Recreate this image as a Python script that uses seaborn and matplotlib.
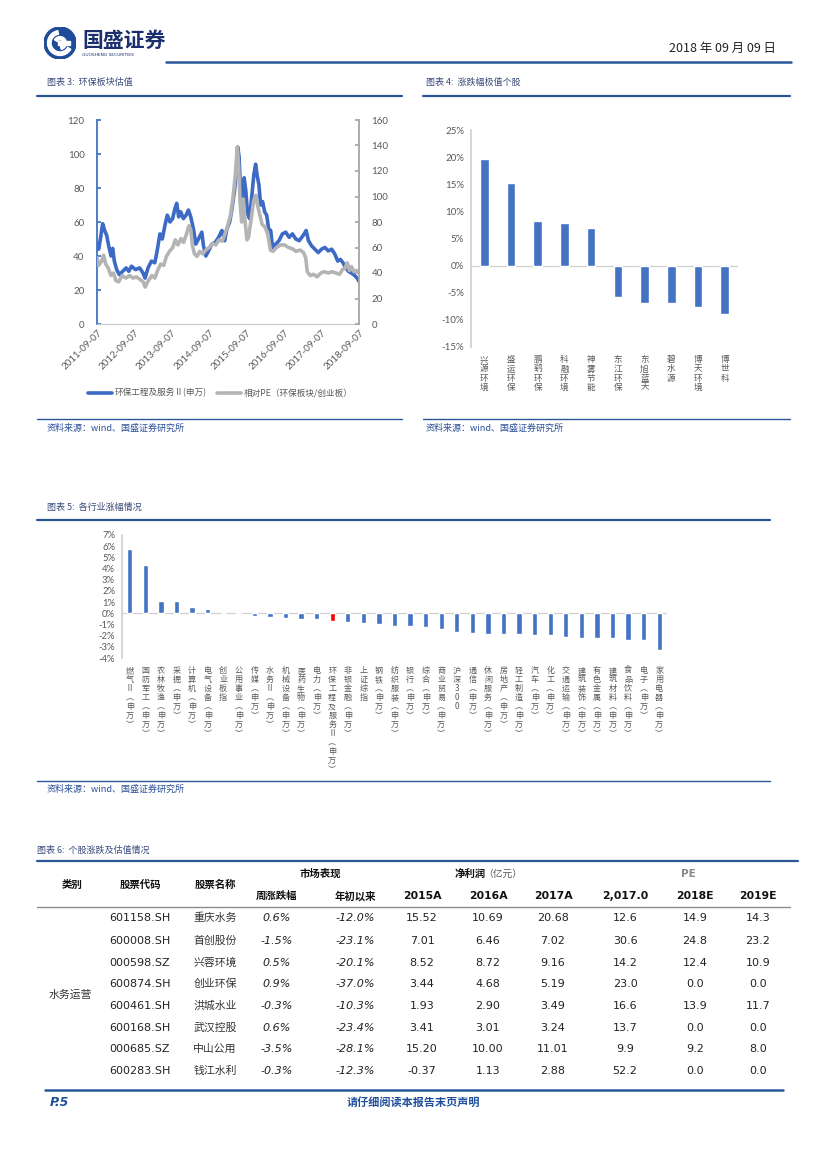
import numpy as np
import pandas as pd
import matplotlib
matplotlib.use("Agg")
import matplotlib.pyplot as plt
from matplotlib.lines import Line2D
from matplotlib.patches import Circle, Wedge, Rectangle
import seaborn as sns

sns.set_theme(style="white")
plt.rcParams['font.family'] = ['Noto Sans CJK SC', 'DejaVu Sans']
plt.rcParams['axes.unicode_minus'] = False

# ---- 图表3 data ----
blue_dates = ['2011-09-07', '2011-09-23', '2011-10-10', '2011-11-01', '2011-11-21', '2011-12-11',
              '2011-12-30', '2012-01-22', '2012-02-07', '2012-02-23', '2012-03-17', '2012-04-12',
              '2012-05-15', '2012-06-17', '2012-07-13', '2012-08-09', '2012-09-17', '2012-10-27',
              '2012-11-29', '2012-12-19', '2013-01-17', '2013-02-19', '2013-03-24', '2013-04-16',
              '2013-05-13', '2013-06-05', '2013-07-01', '2013-07-24', '2013-08-19', '2013-09-14',
              '2013-10-07', '2013-10-24', '2013-11-12', '2013-12-02', '2013-12-28', '2014-01-23',
              '2014-02-15', '2014-03-10', '2014-04-05', '2014-04-28', '2014-05-24', '2014-06-26',
              '2014-07-12', '2014-08-04', '2014-08-31', '2014-10-02', '2014-11-04', '2014-12-07',
              '2015-01-08', '2015-02-04', '2015-02-26', '2015-03-25', '2015-04-17', '2015-05-10',
              '2015-05-30', '2015-06-12', '2015-06-25', '2015-07-11', '2015-07-28', '2015-08-13',
              '2015-08-30', '2015-09-15', '2015-10-05', '2015-10-28', '2015-11-16', '2015-12-03',
              '2015-12-19', '2016-01-04', '2016-01-21', '2016-02-09', '2016-02-29', '2016-03-20',
              '2016-04-08', '2016-04-28', '2016-05-17', '2016-06-16', '2016-07-18', '2016-08-20',
              '2016-09-22', '2016-10-25', '2016-11-26', '2016-12-29', '2017-01-31', '2017-02-26',
              '2017-03-21', '2017-04-09', '2017-05-02', '2017-06-01', '2017-07-03', '2017-08-05',
              '2017-09-06', '2017-10-09', '2017-11-11', '2017-12-14', '2018-01-15', '2018-02-11',
              '2018-03-09', '2018-04-04', '2018-04-30', '2018-05-27', '2018-06-22', '2018-07-18',
              '2018-08-20', '2018-09-07']
blue_vals = [47.5, 44, 50, 59, 55, 52, 46, 40, 44.5, 37, 32, 29,
             31, 33, 31, 34, 32, 33, 30, 27, 33, 37, 36, 43,
             53, 50, 58, 64, 60, 62, 68, 71, 63, 66, 62, 64,
             67, 63, 56, 47, 50, 54, 46, 40, 43, 47, 48, 51,
             55, 49, 56, 60, 68, 78, 90, 104, 98, 75, 64, 86,
             78, 65, 62, 76, 88, 94, 87, 82, 70, 72, 66, 64,
             56, 55, 45, 47, 49, 53, 54, 51, 53, 50, 49, 51,
             53, 55, 49, 46, 44, 42, 44, 45, 43, 44, 41, 37,
             38, 36, 33, 31, 30, 29, 27, 25]

gray_dates = ['2011-09-07', '2011-09-23', '2011-10-20', '2011-11-10', '2011-12-01', '2011-12-25',
              '2012-01-22', '2012-02-15', '2012-03-10', '2012-04-05', '2012-05-10', '2012-06-15',
              '2012-07-20', '2012-08-25', '2012-09-25', '2012-10-30', '2012-12-01', '2012-12-20',
              '2013-01-20', '2013-02-25', '2013-03-25', '2013-04-20', '2013-05-20', '2013-06-20',
              '2013-07-15', '2013-08-15', '2013-09-15', '2013-10-10', '2013-11-05', '2013-12-05',
              '2013-12-30', '2014-01-25', '2014-02-20', '2014-03-10', '2014-03-25', '2014-04-15',
              '2014-05-10', '2014-06-05', '2014-07-05', '2014-08-05', '2014-09-05', '2014-10-10',
              '2014-11-10', '2014-12-10', '2015-01-10', '2015-02-05', '2015-03-05', '2015-04-01',
              '2015-04-25', '2015-05-20', '2015-06-08', '2015-06-20', '2015-07-05', '2015-07-20',
              '2015-08-05', '2015-08-20', '2015-09-10', '2015-09-25', '2015-10-20', '2015-11-15',
              '2015-12-05', '2015-12-25', '2016-01-15', '2016-02-05', '2016-03-05', '2016-04-01',
              '2016-04-25', '2016-05-20', '2016-06-25', '2016-08-01', '2016-09-10', '2016-10-20',
              '2016-11-25', '2017-01-01', '2017-02-10', '2017-03-15', '2017-04-05', '2017-04-20',
              '2017-05-20', '2017-06-20', '2017-07-25', '2017-08-30', '2017-10-05', '2017-11-10',
              '2017-12-20', '2018-01-25', '2018-03-01', '2018-04-01', '2018-04-25', '2018-05-15',
              '2018-06-05', '2018-06-25', '2018-07-20', '2018-08-15', '2018-09-07']
gray_vals = [52, 46, 49, 54, 47, 44, 38, 40, 34, 33, 38, 36,
             38, 36, 37, 35, 33, 29, 34, 38, 36, 42, 47, 46,
             53, 57, 60, 66, 62, 67, 64, 70, 77, 74, 62, 55,
             53, 57, 55, 58, 60, 63, 62, 66, 65, 70, 77, 85,
             98, 118, 139, 125, 95, 80, 98, 82, 66, 68, 82, 97,
             101, 92, 85, 78, 76, 70, 58, 57, 60, 62, 62, 60,
             59, 57, 58, 56, 52, 41, 38, 39, 37, 40, 41, 40,
             41, 40, 39, 43, 44, 48, 42, 45, 41, 42, 40]

x_ticks = ['2011-09-07', '2012-09-07', '2013-09-07', '2014-09-07',
           '2015-09-07', '2016-09-07', '2017-09-07', '2018-09-07']

# ---- 图表4 data ----
stocks4 = ['兴源环境', '盛运环保', '鹏鹞环保', '科融环境', '神雾节能',
           '东江环保', '东旭蓝天', '碧水源', '博天环境', '博世科']
chg4 = [19.6, 15.2, 8.3, 7.85, 6.9, -5.7, -6.9, -6.9, -7.7, -9.0]

# ---- 图表5 data ----
ind_names = ['燃气Ⅱ(申万)', '国防军工(申万)', '农林牧渔(申万)', '采掘(申万)', '计算机(申万)',
             '电气设备(申万)', '创业板指', '公用事业(申万)', '传媒(申万)', '水务Ⅱ(申万)',
             '机械设备(申万)', '医药生物(申万)', '电力(申万)', '环保工程及服务Ⅱ(申万)',
             '非银金融(申万)', '上证综指', '钢铁(申万)', '纺织服装(申万)', '银行(申万)',
             '综合(申万)', '商业贸易(申万)', '沪深300', '通信(申万)', '休闲服务(申万)',
             '房地产(申万)', '轻工制造(申万)', '汽车(申万)', '化工(申万)', '交通运输(申万)',
             '建筑装饰(申万)', '有色金属(申万)', '建筑材料(申万)', '食品饮料(申万)',
             '电子(申万)', '家用电器(申万)']
ind_chg = [5.73, 4.33, 1.10, 1.10, 0.54, 0.42, 0.0, -0.05, -0.28, -0.30,
           -0.45, -0.48, -0.54, -0.69, -0.75, -0.90, -0.99, -1.13, -1.13, -1.22,
           -1.43, -1.70, -1.73, -1.82, -1.85, -1.88, -1.94, -1.94, -2.15, -2.21,
           -2.21, -2.24, -2.42, -2.42, -3.25]
highlight = '环保工程及服务Ⅱ(申万)'

# ---- 图表6 data ----
codes = ['601158.SH', '600008.SH', '000598.SZ', '600874.SH',
         '600461.SH', '600168.SH', '000685.SZ', '600283.SH']
names = ['重庆水务', '首创股份', '兴蓉环境', '创业环保', '洪城水业', '武汉控股', '中山公用', '钱江水利']
week_chg = [0.6, -1.5, 0.5, 0.9, -0.3, 0.6, -3.5, -0.3]
ytd_chg = [-12.0, -23.1, -20.1, -37.0, -10.3, -23.4, -28.1, -12.3]
np2015 = [15.52, 7.01, 8.52, 3.44, 1.93, 3.41, 15.20, -0.37]
np2016 = [10.69, 6.46, 8.72, 4.68, 2.90, 3.01, 10.00, 1.13]
np2017 = [20.68, 7.02, 9.16, 5.19, 3.49, 3.24, 11.01, 2.88]
pe2017 = [12.6, 30.6, 14.2, 23.0, 16.6, 13.7, 9.9, 52.2]
pe2018 = [14.9, 24.8, 12.4, 0.0, 13.9, 0.0, 9.2, 0.0]
pe2019 = [14.3, 23.2, 10.9, 0.0, 11.7, 0.0, 8.0, 0.0]

W, H = 827, 1169
BLUE = '#4472C4'
GRAY = '#B4B4B4'
RULE = '#2B579A'
TITLE_C = '#3B4A7C'
TICK_C = '#595959'
NUM_FONT = ['DejaVu Sans', 'Noto Sans CJK SC']
TICK_FONT = ['Lato', 'Noto Sans CJK SC']

fig = plt.figure(figsize=(8.27, 11.69), dpi=100)


def px_axes(l, t, r, b):
    return fig.add_axes([l / W, 1 - b / H, (r - l) / W, (b - t) / H])


def ftext(x, y, s, **kw):
    kw.setdefault('va', 'center')
    return fig.text(x / W, 1 - y / H, s, **kw)


def hline(x1, x2, y, color=RULE, lw=1.6):
    fig.add_artist(Line2D([x1 / W, x2 / W], [1 - y / H, 1 - y / H],
                          color=color, lw=lw, transform=fig.transFigure))


def vstack(s):
    return '\n'.join(s.replace('(', '︵').replace(')', '︶'))


# ---- header ----
logo = px_axes(44, 27, 76, 59)
logo.set_xlim(-1, 1)
logo.set_ylim(-1, 1)
logo.set_aspect('equal')
logo.axis('off')
logo.add_patch(Circle((0, 0), 1, color='#1E4C9A'))
logo.add_patch(Wedge((0, 0), 0.78, 100, 330, width=0.22, color='white'))
logo.add_patch(Wedge((0, 0), 0.4, 280, 150, width=0.2, color='white'))
logo.add_patch(Rectangle((-0.15, -0.1), 0.8, 0.2, color='white'))
ftext(82, 40, '国盛证券', fontsize=15, fontweight='bold', color='#1B2F6E', ha='left')
ftext(82, 55, 'GUOSHENG SECURITIES', fontsize=3.2, color='#1B2F6E', ha='left',
      family=NUM_FONT)
ftext(776, 48, '2018 年 09 月 09 日', fontsize=9, color='#222222', ha='right')
hline(166, 791, 62, lw=1.8)

# ---- section titles and rules ----
ftext(47, 82, '图表 3:  环保板块估值', fontsize=6.5, color=TITLE_C, ha='left')
ftext(426, 82, '图表 4:  涨跌幅极值个股', fontsize=6.5, color=TITLE_C, ha='left')
hline(37, 402, 96)
hline(423, 790, 96)
hline(37, 402, 419, lw=1.0)
hline(423, 790, 419, lw=1.0)
ftext(47, 428, '资料来源：wind、国盛证券研究所', fontsize=6.5, color='#2A4F9A', ha='left')
ftext(426, 428, '资料来源：wind、国盛证券研究所', fontsize=6.5, color='#2A4F9A', ha='left')

ftext(47, 507, '图表 5:  各行业涨幅情况', fontsize=6.5, color=TITLE_C, ha='left')
hline(37, 770, 520)
hline(37, 770, 781, lw=1.0)
ftext(47, 789, '资料来源：wind、国盛证券研究所', fontsize=6.5, color='#2A4F9A', ha='left')

ftext(37, 850, '图表 6:  个股涨跌及估值情况', fontsize=6.5, color=TITLE_C, ha='left')
hline(37, 798, 861)

# ---- 图表3: twin line chart ----
ax3 = px_axes(97, 120, 359, 324)
bdf = pd.DataFrame({'date': pd.to_datetime(blue_dates), 'v': blue_vals})
gdf = pd.DataFrame({'date': pd.to_datetime(gray_dates), 'v': gray_vals})
sns.lineplot(data=bdf, x='date', y='v', ax=ax3, color='#3D6AC4', lw=2.6)
ax3r = ax3.twinx()
sns.lineplot(data=gdf, x='date', y='v', ax=ax3r, color=GRAY, lw=2.6)
ax3.set_xlim(pd.Timestamp(x_ticks[0]), pd.Timestamp(x_ticks[-1]))
ax3.set_ylim(0, 120)
ax3r.set_ylim(0, 160)
ax3.set_yticks(range(0, 121, 20))
ax3r.set_yticks(range(0, 161, 20))
ax3.set_xticks(pd.to_datetime(x_ticks))
ax3.set_xticklabels(x_ticks, rotation=45, ha='right', rotation_mode='anchor',
                    fontsize=7, color=TICK_C, family=TICK_FONT)
for a in (ax3, ax3r):
    a.set_xlabel('')
    a.set_ylabel('')
    a.set_facecolor('none')
    for sp in a.spines.values():
        sp.set_visible(False)
for lab in ax3.get_yticklabels() + ax3r.get_yticklabels():
    lab.set_fontsize(7)
    lab.set_color(TICK_C)
    lab.set_family(TICK_FONT)
ax3.spines['left'].set_visible(True)
ax3.spines['left'].set_color('#4472C4')
ax3.spines['left'].set_linewidth(1.3)
ax3.spines['bottom'].set_visible(True)
ax3.spines['bottom'].set_color('#C8C8C8')
ax3.spines['bottom'].set_linewidth(0.8)
ax3r.spines['right'].set_visible(True)
ax3r.spines['right'].set_color('#A6A6A6')
ax3r.spines['right'].set_linewidth(1.3)
ax3.tick_params(axis='y', length=3, direction='in', color='#4472C4', pad=9)
ax3r.tick_params(axis='y', length=3, direction='in', color='#A6A6A6', pad=9)
ax3.tick_params(axis='x', length=3, direction='in', color='#C8C8C8', pad=3)
ax3.grid(False)
ax3r.grid(False)
handles = [Line2D([], [], color='#3D6AC4', lw=2.6), Line2D([], [], color=GRAY, lw=2.6)]
fig.legend(handles, ['环保工程及服务Ⅱ(申万)', '相对PE（环保板块/创业板）'],
           loc='center', bbox_to_anchor=(220 / W, 1 - 393 / H), ncol=2, frameon=False,
           fontsize=6.2, handlelength=2.8, columnspacing=1.2, handletextpad=0.3,
           labelcolor=TICK_C)

# ---- 图表4: bar chart ----
ax4 = px_axes(471, 130, 738, 347)
df4 = pd.DataFrame({'stock': stocks4, 'chg': chg4})
sns.barplot(data=df4, x='stock', y='chg', ax=ax4, color=BLUE, width=0.32,
            saturation=1)
ax4.set_xlim(-0.5, len(stocks4) - 0.5)
ax4.set_ylim(-15, 25)
ax4.set_yticks(range(-15, 26, 5))
ax4.set_yticklabels([f'{v}%' for v in range(-15, 26, 5)], fontsize=7,
                    color=TICK_C, family=TICK_FONT)
ax4.set_xticks(range(len(stocks4)))
ax4.set_xticklabels([vstack(s) for s in stocks4], fontsize=6.2, color=TICK_C,
                    va='top', linespacing=1.02)
ax4.tick_params(axis='x', length=0, pad=6)
ax4.tick_params(axis='y', length=3, color='#D0D0D0', direction='out', pad=2)
ax4.axhline(0, color='#D0D0D0', lw=0.9, zorder=0)
for sp in ax4.spines.values():
    sp.set_visible(False)
ax4.spines['left'].set_visible(True)
ax4.spines['left'].set_color('#D0D0D0')
ax4.set_xlabel('')
ax4.set_ylabel('')
ax4.grid(False)

# ---- 图表5: bar chart ----
ax5 = px_axes(122, 535, 667, 658)
df5 = pd.DataFrame({'ind': ind_names, 'chg': ind_chg})
pal5 = {n: ('#FF0000' if n == highlight else BLUE) for n in ind_names}
sns.barplot(data=df5, x='ind', y='chg', hue='ind', palette=pal5, legend=False,
            ax=ax5, width=0.34, saturation=1)
ax5.set_xlim(-0.5, len(ind_names) - 0.5)
ax5.set_ylim(-4, 7)
ax5.set_yticks(range(-4, 8))
ax5.set_yticklabels([f'{v}%' for v in range(-4, 8)], fontsize=6.8,
                    color=TICK_C, family=TICK_FONT)
ax5.set_xticks(range(len(ind_names)))
ax5.set_xticklabels([vstack(s) for s in ind_names], fontsize=5.8, color=TICK_C,
                    va='top', linespacing=1.0)
ax5.tick_params(axis='x', length=0, pad=6)
ax5.tick_params(axis='y', length=3, color='#D0D0D0', direction='out', pad=2)
ax5.axhline(0, color='#D0D0D0', lw=0.9, zorder=0)
for sp in ax5.spines.values():
    sp.set_visible(False)
ax5.spines['left'].set_visible(True)
ax5.spines['left'].set_color('#D0D0D0')
ax5.set_xlabel('')
ax5.set_ylabel('')
ax5.grid(False)

# ---- 图表6: table ----
axt = px_axes(0, 861, W, 1090)
axt.set_xlim(0, W)
axt.set_ylim(1090, 861)
axt.axis('off')
hdr = dict(fontsize=7.5, fontweight='bold', color='#111111', ha='center', va='center')
axt.text(320, 874, '市场表现', **hdr)
axt.text(470, 874, '净利润', **hdr)
axt.text(503, 874, '（亿元）', fontsize=7, color='#555555', ha='center', va='center')
axt.text(688, 874, 'PE', fontsize=7.5, fontweight='bold', color='#888888', ha='center',
         va='center', family=NUM_FONT)
axt.text(72, 885, '类别', **hdr)
axt.text(140, 885, '股票代码', **hdr)
axt.text(215, 885, '股票名称', **hdr)
axt.text(277, 896, '周涨跌幅', **hdr)
axt.text(355, 896, '年初以来', **hdr)
num_cols = [422, 488, 553, 625, 695, 758]
for x, s in zip(num_cols, ['2015A', '2016A', '2017A', '2,017.0', '2018E', '2019E']):
    axt.text(x, 896, s, fontsize=7.8, fontweight='bold', color='#111111', ha='center',
             va='center', family=NUM_FONT)
axt.plot([37, 790], [907, 907], color='#8C8C8C', lw=1.0)
axt.plot([45, 783], [1090, 1090], color=RULE, lw=1.8, clip_on=False)

row_y = [918, 941, 963, 984, 1006, 1028, 1049, 1071]
cell = dict(fontsize=8, color='#222222', ha='center', va='center', family=NUM_FONT)
for i, y in enumerate(row_y):
    axt.text(140, y, codes[i], **cell)
    axt.text(215, y, names[i], fontsize=7.8, color='#333333', ha='center', va='center')
    axt.text(277, y, f'{week_chg[i]:.1f}%', style='italic', **cell)
    axt.text(355, y, f'{ytd_chg[i]:.1f}%', style='italic', **cell)
    axt.text(422, y, f'{np2015[i]:.2f}', **cell)
    axt.text(488, y, f'{np2016[i]:.2f}', **cell)
    axt.text(553, y, f'{np2017[i]:.2f}', **cell)
    axt.text(625, y, f'{pe2017[i]:.1f}', **cell)
    axt.text(695, y, f'{pe2018[i]:.1f}', **cell)
    axt.text(758, y, f'{pe2019[i]:.1f}', **cell)
axt.text(70, 995, '水务运营', fontsize=7.8, color='#333333', ha='center', va='center')

# ---- footer ----
ftext(50, 1102, 'P.5', fontsize=9, fontweight='bold', style='italic', color='#1F4E9B',
      ha='left', family=NUM_FONT)
ftext(413, 1102, '请仔细阅读本报告末页声明', fontsize=8, fontweight='bold', color='#1F4E9B',
      ha='center')

fig.savefig('out.png', dpi=100)
